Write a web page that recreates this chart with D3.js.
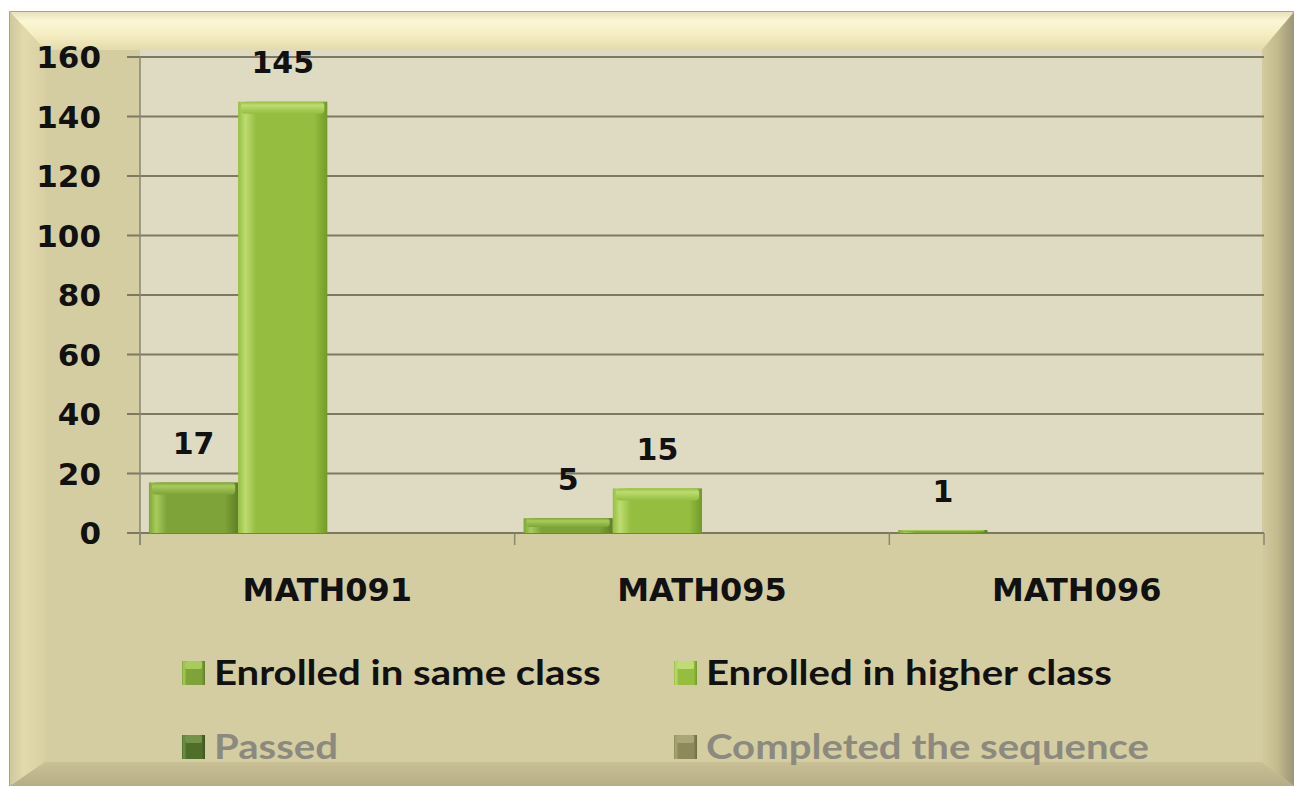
<!DOCTYPE html>
<html>
<head>
<meta charset="utf-8">
<script src="https://cdn.jsdelivr.net/npm/d3@7"></script>
<style>
  html, body { margin: 0; padding: 0; background: #ffffff; }
  svg { display: block; }
</style>
</head>
<body>
<svg id="chart" width="1294" height="786"></svg>
<script>
// data
var categories = ["MATH091", "MATH095", "MATH096"];
var seriesNames = ["Enrolled in same class", "Enrolled in higher class", "Passed", "Completed the sequence"];
var sameClass = [17, 5, 1];
var higherClass = [145, 15, 0];
var passed = [0, 0, 0];
var completed = [0, 0, 0];
var yTicks = [0, 20, 40, 60, 80, 100, 120, 140, 160];

var seriesValues = [sameClass, higherClass, passed, completed];
var seriesColors = [
  {main: "#7ea338", light: "#a9cb5e", dark: "#5f7f25"},
  {main: "#95be40", light: "#bedc72", dark: "#729a2a"},
  {main: "#4f6e2a", light: "#71934a", dark: "#3b5420"},
  {main: "#8d895a", light: "#aaa67a", dark: "#6f6b44"}
];
var legendTextColor = ["#111111", "#111111", "#8c8a7e", "#8c8a7e"];

var svg = d3.select("#chart");

// frame: outer edge and inner panel
var outer = {x0: 10, y0: 12, x1: 1294, y1: 786};
var inner = {x0: 45, y0: 50, x1: 1262, y1: 762};

var defs = svg.append("defs");

function linGrad(id, x1, y1, x2, y2, stops) {
  var g = defs.append("linearGradient").attr("id", id)
      .attr("x1", x1).attr("y1", y1).attr("x2", x2).attr("y2", y2);
  stops.forEach(function(s) {
    g.append("stop").attr("offset", s[0]).attr("stop-color", s[1]);
  });
}

linGrad("bevTop", 0, 0, 0, 1, [[0, "#e9e2bb"], [0.25, "#fbf6d4"], [0.6, "#f5edc2"], [1, "#e4dbab"]]);
linGrad("bevLeft", 0, 0, 1, 0, [[0, "#d0c79a"], [0.4, "#e2d9ad"], [1, "#d8cfa2"]]);
linGrad("bevRight", 0, 0, 1, 0, [[0, "#d3caa0"], [0.5, "#c2b98c"], [1, "#9c9577"]]);
linGrad("bevBottom", 0, 0, 0, 1, [[0, "#c9c096"], [1, "#b6ad86"]]);

// outer frame base
svg.append("rect")
    .attr("x", outer.x0).attr("y", outer.y0)
    .attr("width", outer.x1 - outer.x0).attr("height", outer.y1 - outer.y0)
    .attr("fill", "#d4cca0").attr("stroke", "#a5a296").attr("stroke-width", 2);

function poly(points, fill) {
  svg.append("polygon")
      .attr("points", points.map(function(p) { return p.join(","); }).join(" "))
      .attr("fill", fill);
}
poly([[outer.x0, outer.y0], [outer.x1, outer.y0], [inner.x1, inner.y0], [inner.x0, inner.y0]], "url(#bevTop)");
poly([[outer.x0, outer.y0], [inner.x0, inner.y0], [inner.x0, inner.y1], [outer.x0, outer.y1]], "url(#bevLeft)");
poly([[outer.x1, outer.y0], [outer.x1, outer.y1], [inner.x1, inner.y1], [inner.x1, inner.y0]], "url(#bevRight)");
poly([[outer.x0, outer.y1], [inner.x0, inner.y1], [inner.x1, inner.y1], [outer.x1, outer.y1]], "url(#bevBottom)");

// inner panel
svg.append("rect")
    .attr("x", inner.x0).attr("y", inner.y0)
    .attr("width", inner.x1 - inner.x0).attr("height", inner.y1 - inner.y0)
    .attr("fill", "#d5cda2");

// plot area
var plot = {left: 140, right: 1264, top: 57, bottom: 533};

svg.append("rect")
    .attr("x", plot.left).attr("y", inner.y0)
    .attr("width", inner.x1 - plot.left).attr("height", plot.bottom - inner.y0)
    .attr("fill", "#dfdbc3");

var x0 = d3.scaleBand().domain(categories).range([plot.left, plot.right]).paddingInner(0).paddingOuter(0);
var x1 = d3.scaleBand().domain(d3.range(seriesNames.length))
    .range([0, x0.bandwidth()]).paddingInner(0).paddingOuter(0.1);
var y = d3.scaleLinear().domain([0, 160]).range([plot.bottom, plot.top]);

// gridlines
svg.append("g").selectAll("line")
    .data(yTicks)
    .enter().append("line")
    .attr("x1", plot.left - 13).attr("x2", plot.right)
    .attr("y1", function(d) { return y(d); })
    .attr("y2", function(d) { return y(d); })
    .attr("stroke", "#7d7862").attr("stroke-width", 2);

// y axis line
svg.append("line")
    .attr("x1", plot.left).attr("x2", plot.left)
    .attr("y1", plot.top).attr("y2", plot.bottom + 12)
    .attr("stroke", "#8a8670").attr("stroke-width", 1.5);

// category ticks
var catEdges = categories.map(function(c) { return x0(c); }).concat([x0(categories[categories.length - 1]) + x0.bandwidth()]);
svg.append("g").selectAll("line")
    .data(catEdges)
    .enter().append("line")
    .attr("x1", function(d) { return d; }).attr("x2", function(d) { return d; })
    .attr("y1", plot.bottom).attr("y2", plot.bottom + 12)
    .attr("stroke", "#8a8670").attr("stroke-width", 1.5);

// y tick labels
svg.append("g").selectAll("text")
    .data(yTicks)
    .enter().append("text")
    .attr("x", 101)
    .attr("y", function(d) { return y(d); })
    .attr("dy", "0.36em")
    .attr("text-anchor", "end")
    .style("font-family", "'DejaVu Sans', Verdana, sans-serif")
    .style("font-weight", "bold")
    .style("font-size", "31px")
    .attr("fill", "#111")
    .text(function(d) { return d; });

// category labels
svg.append("g").selectAll("text")
    .data(categories)
    .enter().append("text")
    .attr("x", function(d) { return x0(d) + x0.bandwidth() / 2; })
    .attr("y", 589)
    .attr("dy", "0.36em")
    .attr("text-anchor", "middle")
    .style("font-family", "'DejaVu Sans', Verdana, sans-serif")
    .style("font-weight", "bold")
    .style("font-size", "32px")
    .attr("fill", "#111")
    .text(function(d) { return d; });

// bar gradients
seriesColors.forEach(function(c, i) {
  linGrad("barFill" + i, 0, 0, 1, 0, [[0, c.main], [0.08, c.light], [0.2, c.main], [0.85, c.main], [1, c.dark]]);
  linGrad("barTop" + i, 0, 0, 0, 1, [[0, c.main], [0.3, c.light], [1, c.main]]);
});

// bars
var barData = [];
seriesValues.forEach(function(vals, s) {
  vals.forEach(function(v, ci) {
    barData.push({series: s, cat: categories[ci], value: v});
  });
});
barData = barData.filter(function(d) { return d.value > 0; });

var bars = svg.append("g").selectAll("g")
    .data(barData)
    .enter().append("g");

bars.append("rect")
    .attr("x", function(d) { return x0(d.cat) + x1(d.series); })
    .attr("y", function(d) { return y(d.value); })
    .attr("width", x1.bandwidth())
    .attr("height", function(d) { return plot.bottom - y(d.value); })
    .attr("fill", function(d) { return "url(#barFill" + d.series + ")"; });

bars.append("rect")
    .attr("x", function(d) { return x0(d.cat) + x1(d.series) + 3; })
    .attr("y", function(d) { return y(d.value); })
    .attr("width", x1.bandwidth() - 6)
    .attr("height", function(d) { return Math.min(12, (plot.bottom - y(d.value)) * 0.6); })
    .attr("rx", 4)
    .attr("fill", function(d) { return "url(#barTop" + d.series + ")"; });

// value labels
svg.append("g").selectAll("text")
    .data(barData)
    .enter().append("text")
    .attr("x", function(d) { return x0(d.cat) + x1(d.series) + x1.bandwidth() / 2; })
    .attr("y", function(d) { return y(d.value) - 39; })
    .attr("dy", "0.36em")
    .attr("text-anchor", "middle")
    .style("font-family", "'DejaVu Sans', Verdana, sans-serif")
    .style("font-weight", "bold")
    .style("font-size", "30px")
    .attr("fill", "#111")
    .text(function(d) { return d.value; });

// legend
var legendPos = [[182, 673], [674, 673], [182, 747], [674, 747]];
var legend = svg.append("g").selectAll("g")
    .data(seriesNames)
    .enter().append("g")
    .attr("transform", function(d, i) { return "translate(" + legendPos[i][0] + "," + legendPos[i][1] + ")"; });

legend.append("rect")
    .attr("x", 0).attr("y", -12)
    .attr("width", 23).attr("height", 24)
    .attr("fill", function(d, i) { return "url(#barFill" + i + ")"; });
legend.append("rect")
    .attr("x", 3).attr("y", -12)
    .attr("width", 17).attr("height", 8)
    .attr("rx", 2)
    .attr("fill", function(d, i) { return seriesColors[i].light; });

// the legend font is wide and squat in the picture, so stretch it a little
legend.append("text")
    .attr("transform", "translate(32,0) scale(1.18,1)")
    .attr("dy", "0.35em")
    .style("font-family", "Lato, 'Open Sans', sans-serif")
    .style("font-weight", "bold")
    .style("font-size", "34px")
    .attr("fill", function(d, i) { return legendTextColor[i]; })
    .text(function(d) { return d; });
</script>
</body>
</html>
